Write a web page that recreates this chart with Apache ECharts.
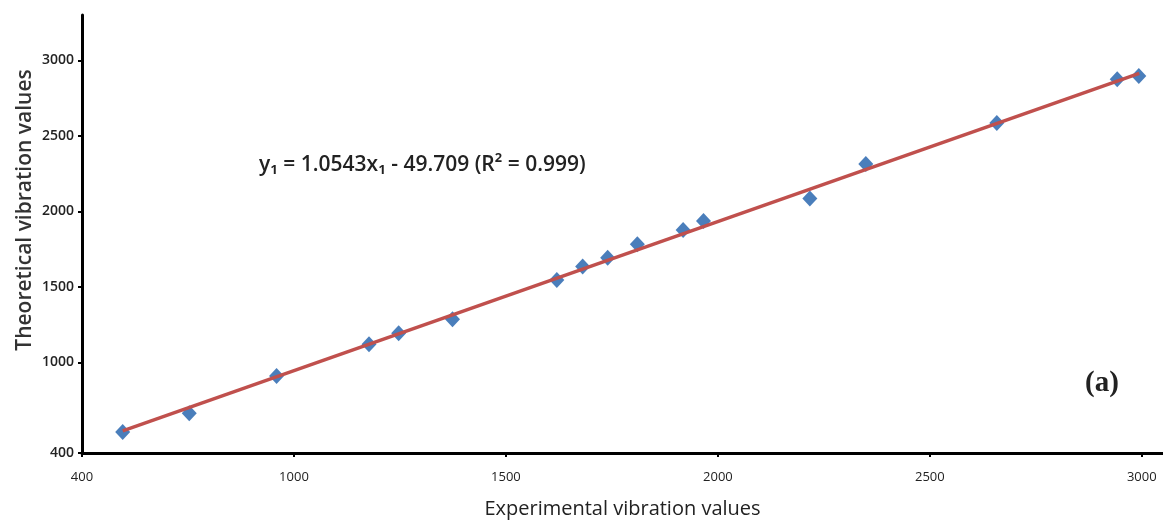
<!DOCTYPE html>
<html>
<head>
<meta charset="utf-8">
<script src="https://cdn.jsdelivr.net/npm/echarts@6/dist/echarts.min.js"></script>
<style>
  html, body { margin: 0; padding: 0; background: #fff; }
  #chart { width: 1163px; height: 522px; }
</style>
</head>
<body>
<div id="chart"></div>
<script>
// values
const expValues = [596, 753, 959, 1177, 1247, 1374, 1620, 1681, 1740, 1810, 1918, 1966, 2217, 2349, 2658, 2942, 2993];
const theoValues = [539, 663, 910, 1120, 1193, 1286, 1545, 1634, 1693, 1782, 1876, 1936, 2085, 2313, 2585, 2874, 2896];
// ends of the drawn fit line
const fitX = [596, 2994];
const fitY = [546, 2914];
// axis ticks (the origin of x is labelled 400 in the figure)
const xTickValues = [500, 1000, 1500, 2000, 2500, 3000];
const xTickLabels = ['400', '1000', '1500', '2000', '2500', '3000'];
const yTickValues = [400, 1000, 1500, 2000, 2500, 3000];

const chart = echarts.init(document.getElementById('chart'));

const points = expValues.map((x, i) => [x, theoValues[i]]);
const fitLine = fitX.map((x, i) => [x, fitY[i]]);

const axisLine = { show: true, lineStyle: { color: '#000', width: 3 } };

const option = {
  animation: false,
  grid: { left: 82, right: 0, top: 15, bottom: 69, outerBoundsMode: 'none' },
  xAxis: {
    type: 'value',
    min: 500,
    max: 3050,
    splitLine: { show: false },
    axisLine: axisLine,
    axisTick: { show: true, customValues: xTickValues, length: 4, lineStyle: { color: '#000', width: 2 } },
    axisLabel: {
      customValues: xTickValues,
      margin: 18,
      fontFamily: 'Open Sans',
      fontSize: 13,
      color: '#222',
      formatter: v => xTickLabels[xTickValues.indexOf(v)]
    },
    name: 'Experimental vibration values',
    nameLocation: 'middle',
    nameGap: 46,
    nameMoveOverlap: false,
    nameTextStyle: { fontFamily: 'Open Sans', fontSize: 20, color: '#222' }
  },
  yAxis: {
    type: 'value',
    min: 400,
    max: 3300,
    splitLine: { show: false },
    axisLine: axisLine,
    axisTick: { show: true, customValues: yTickValues, length: 4, lineStyle: { color: '#000', width: 2 } },
    axisLabel: {
      customValues: yTickValues,
      margin: 8,
      fontFamily: 'Open Sans',
      fontSize: 14,
      fontWeight: 600,
      color: '#222',
      formatter: v => String(v)
    },
    name: 'Theoretical vibration values',
    nameLocation: 'middle',
    nameGap: 46,
    nameMoveOverlap: false,
    nameTextStyle: { fontFamily: 'Open Sans', fontSize: 21, fontWeight: 600, color: '#333', padding: [0, 0, 0, 48] }
  },
  graphic: [
    {
      type: 'text',
      left: 259,
      top: 155,
      style: {
        text: 'y\u2081 = 1.0543x\u2081 - 49.709 (R\u00b2 = 0.999)',
        font: '600 21px "Open Sans", "DejaVu Sans"',
        fill: '#222'
      }
    },
    {
      type: 'text',
      left: 1085,
      top: 369,
      style: {
        text: '(a)',
        font: 'bold 29px "Liberation Serif"',
        fill: '#222'
      }
    }
  ],
  series: [
    {
      type: 'scatter',
      data: points,
      symbol: 'diamond',
      symbolSize: [15, 16],
      itemStyle: { color: '#4a7ebb', opacity: 1 },
      z: 2
    },
    {
      type: 'line',
      data: fitLine,
      symbol: 'none',
      lineStyle: { color: '#c0504d', width: 3.5 },
      z: 3
    }
  ]
};

chart.setOption(option);
</script>
</body>
</html>
